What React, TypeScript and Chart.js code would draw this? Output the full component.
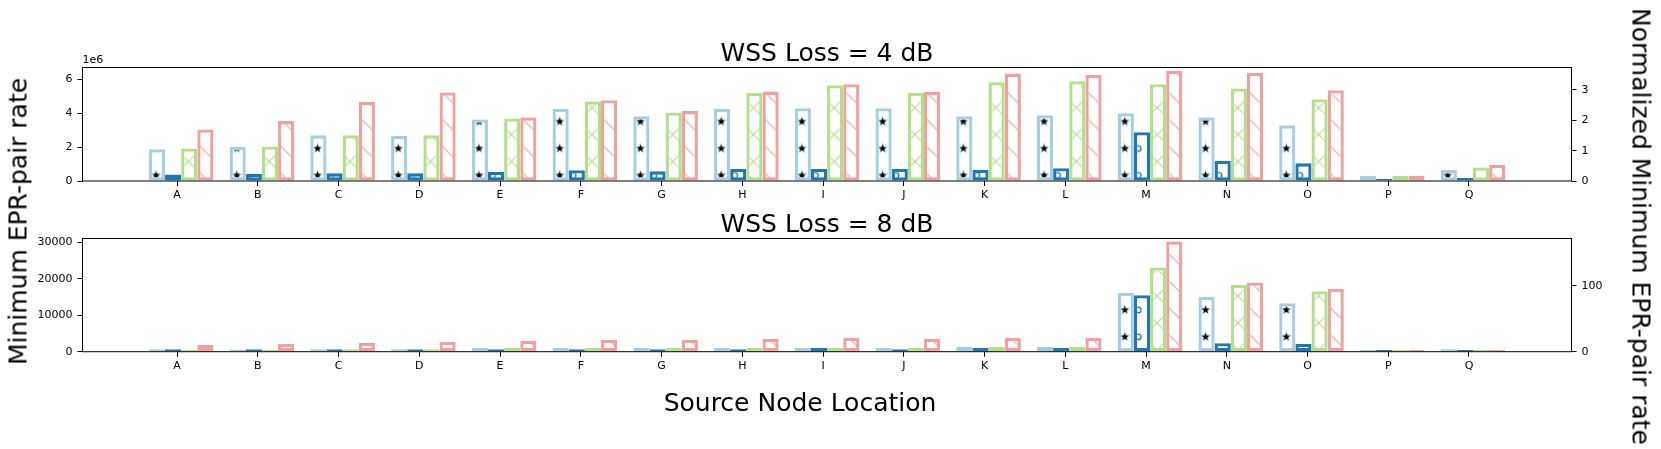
import React, { useEffect, useRef } from 'react';
import { Chart, registerables } from 'chart.js';

Chart.register(...registerables);

// ---------------- data ----------------
const categories = ['A', 'B', 'C', 'D', 'E', 'F', 'G', 'H', 'I', 'J', 'K', 'L', 'M', 'N', 'O', 'P', 'Q'];

// WSS Loss = 4 dB (Minimum EPR-pair rate)
const loss4_lightBlue = [1.87e6, 2.0e6, 2.69e6, 2.65e6, 3.63e6, 4.24e6, 3.82e6, 4.24e6, 4.29e6, 4.29e6, 3.82e6, 3.88e6, 4.0e6, 3.76e6, 3.28e6, 0.29e6, 0.65e6];
const loss4_darkBlue = [0.39e6, 0.43e6, 0.45e6, 0.45e6, 0.53e6, 0.63e6, 0.57e6, 0.71e6, 0.71e6, 0.71e6, 0.66e6, 0.75e6, 2.87e6, 1.19e6, 1.04e6, 0.12e6, 0.18e6];
const loss4_green = [1.92e6, 2.04e6, 2.7e6, 2.69e6, 3.69e6, 4.69e6, 4.04e6, 5.19e6, 5.65e6, 5.19e6, 5.82e6, 5.88e6, 5.71e6, 5.45e6, 4.82e6, 0.29e6, 0.8e6];
const loss4_pink = [3.04e6, 3.53e6, 4.65e6, 5.22e6, 3.75e6, 4.76e6, 4.12e6, 5.27e6, 5.71e6, 5.25e6, 6.33e6, 6.25e6, 6.49e6, 6.37e6, 5.35e6, 0.31e6, 0.94e6];

// WSS Loss = 8 dB (Minimum EPR-pair rate)
const loss8_lightBlue = [700, 600, 700, 700, 1000, 1000, 1000, 1100, 1000, 1100, 1300, 1300, 16100, 15100, 13300, 450, 650];
const loss8_darkBlue = [700, 700, 700, 700, 700, 700, 700, 700, 1000, 700, 1000, 1000, 15500, 2300, 2100, 450, 500];
const loss8_green = [550, 550, 700, 700, 1000, 1000, 1000, 1100, 1100, 1100, 1300, 1300, 23100, 18400, 16600, 450, 500];
const loss8_pink = [1850, 2100, 2400, 2650, 3000, 3200, 3200, 3500, 3850, 3500, 3850, 3850, 30250, 19000, 17200, 450, 500];

// axis ticks / limits
const loss4_leftTicks = [0, 2e6, 4e6, 6e6];
const loss4_rightTicks = [0, 1, 2, 3];
const loss8_leftTicks = [0, 10000, 20000, 30000];
const loss8_rightTicks = [0, 100];
const loss4_leftMax = 6.69e6;
const loss4_rightMax = 3.74;
const loss8_leftMax = 31070;
const loss8_rightMax = 171.8;

const seriesColors = ['#a6cee3', '#1f78b4', '#b2df8a', '#f2a09e'];
const seriesHatch = ['star', 'circle', 'cross', 'back'];

// ---------------- layout ----------------
const W = 1661;
const H = 449;
const PLOT_LEFT = 82.5;
const PLOT_RIGHT = 1571.5;
const X_MIN = -1.172;
const X_MAX = 17.27;
const BAR_SHIFT = 0.05;
const FONT = "'DejaVu Sans', sans-serif";
const HATCH_PERIOD = 26.91; // px in page coordinates
const TILE = 27;

function drawStar(g: CanvasRenderingContext2D, cx: number, cy: number, ro: number, ri: number, fill: string) {
  g.beginPath();
  for (let k = 0; k < 10; k++) {
    const r = k % 2 === 0 ? ro : ri;
    const a = -Math.PI / 2 + (k * Math.PI) / 5;
    const px = cx + r * Math.cos(a);
    const py = cy + r * Math.sin(a);
    if (k === 0) g.moveTo(px, py);
    else g.lineTo(px, py);
  }
  g.closePath();
  g.fillStyle = fill;
  g.fill();
}

// pattern anchored to page coordinates (canvas placed at page y = offY)
function makePattern(kind: string, color: string, offY: number): CanvasPattern | string {
  const s = TILE;
  const k = HATCH_PERIOD / s;
  const c = document.createElement('canvas');
  c.width = s;
  c.height = s;
  const g = c.getContext('2d');
  if (!g) return '#fff';
  g.fillStyle = '#ffffff';
  g.fillRect(0, 0, s, s);
  const half = s / 2;
  const each = (x: number, y: number, fn: (x: number, y: number) => void) => {
    for (const dx of [-s, 0, s]) for (const dy of [-s, 0, s]) fn(x + dx, y + dy);
  };
  const sx = 21.5 / k;
  const sy = 13.9 / k;
  if (kind === 'star') {
    const pts = [
      [sx, sy],
      [sx + half, sy + half],
    ];
    for (const [x, y] of pts) each(x, y, (a, b) => drawStar(g, a, b, 7, 3, '#d3e6f1'));
    for (const [x, y] of pts) each(x, y, (a, b) => drawStar(g, a, b, 4.2, 1.8, '#000000'));
  } else if (kind === 'circle') {
    const pts = [
      [sx + half, sy],
      [sx, sy + half],
    ];
    g.strokeStyle = color;
    g.lineWidth = 1.4;
    for (const [x, y] of pts)
      each(x, y, (a, b) => {
        g.beginPath();
        g.arc(a, b, 2.8, 0, Math.PI * 2);
        g.stroke();
      });
  } else if (kind === 'cross') {
    g.strokeStyle = color;
    g.lineWidth = 1.2;
    g.beginPath();
    for (const d of [-s, 0, s]) {
      g.moveTo(d, 0);
      g.lineTo(d + s, s);
      g.moveTo(d + s, 0);
      g.lineTo(d, s);
    }
    g.stroke();
  } else {
    g.strokeStyle = color;
    g.lineWidth = 1.2;
    g.beginPath();
    for (const d of [-s, 0, s]) {
      g.moveTo(d, 0);
      g.lineTo(d + s, s);
    }
    g.stroke();
  }
  const p = g.createPattern(c, 'repeat');
  if (!p) return '#fff';
  try {
    p.setTransform(new DOMMatrix().translate(0, -offY).scale(k));
  } catch (e) {
    /* ignore */
  }
  return p;
}

const boxPlugin = {
  id: 'axesBox',
  afterDatasetsDraw(chart: any) {
    const { ctx, chartArea } = chart;
    ctx.save();
    ctx.strokeStyle = '#000';
    ctx.lineWidth = 1;
    ctx.strokeRect(chartArea.left, chartArea.top, chartArea.right - chartArea.left, chartArea.bottom - chartArea.top);
    ctx.restore();
  },
};

interface PanelSpec {
  values: number[][];
  leftMax: number;
  rightMax: number;
  leftTicks: number[];
  rightTicks: number[];
  leftFmt: (v: number) => string;
  canvasH: number;
  areaTop: number;
  areaBottom: number;
}

function buildConfig(spec: PanelSpec, patterns: (CanvasPattern | string)[]): any {
  const tickFont = { family: FONT, size: 11 };
  const grid = {
    display: true,
    offset: false,
    drawOnChartArea: false,
    drawTicks: true,
    tickLength: 5,
    color: '#000',
    lineWidth: 1,
  };
  const categoryTicks = (s: any) => {
    s.ticks = categories.map((_, i) => ({ value: i }));
  };
  return {
    type: 'bar',
    data: {
      datasets: spec.values.map((vals, k) => ({
        label: `s${k}`,
        data: vals.map((v, i) => ({ x: i, y: v })),
        backgroundColor: patterns[k],
        borderColor: seriesColors[k],
        borderWidth: 3.3,
        borderSkipped: false,
        categoryPercentage: 0.8,
        barPercentage: 1.0,
        xAxisID: 'x',
        yAxisID: 'y',
      })),
    },
    options: {
      responsive: false,
      animation: false,
      events: [],
      layout: { padding: { top: spec.areaTop, left: 0, right: 0, bottom: 0 } },
      plugins: { legend: { display: false }, tooltip: { enabled: false }, title: { display: false } },
      scales: {
        x: {
          type: 'linear',
          display: false,
          offset: false,
          grid: { offset: false },
          min: X_MIN - BAR_SHIFT,
          max: X_MAX - BAR_SHIFT,
          afterBuildTicks: categoryTicks,
        },
        x2: {
          type: 'linear',
          position: 'bottom',
          offset: false,
          min: X_MIN,
          max: X_MAX,
          afterBuildTicks: categoryTicks,
          afterFit: (s: any) => {
            s.height = spec.canvasH - spec.areaBottom;
          },
          ticks: {
            autoSkip: false,
            maxRotation: 0,
            padding: 3,
            color: '#000',
            font: tickFont,
            callback: (v: number) => categories[v] ?? '',
          },
          grid,
          border: { display: false },
        },
        y: {
          type: 'linear',
          position: 'left',
          min: 0,
          max: spec.leftMax,
          afterBuildTicks: (s: any) => {
            s.ticks = spec.leftTicks.map((v) => ({ value: v }));
          },
          afterFit: (s: any) => {
            s.width = PLOT_LEFT;
          },
          ticks: { padding: 5, color: '#000', font: tickFont, callback: (v: number) => spec.leftFmt(v) },
          grid,
          border: { display: false },
        },
        y2: {
          type: 'linear',
          position: 'right',
          min: 0,
          max: spec.rightMax,
          afterBuildTicks: (s: any) => {
            s.ticks = spec.rightTicks.map((v) => ({ value: v }));
          },
          afterFit: (s: any) => {
            s.width = W - PLOT_RIGHT;
          },
          ticks: { padding: 5, color: '#000', font: tickFont, callback: (v: number) => String(v) },
          grid,
          border: { display: false },
        },
      },
    },
    plugins: [boxPlugin],
  };
}

const TOP_CANVAS_H = 210;
const BOT_CANVAS_TOP = 210;
const BOT_CANVAS_H = H - BOT_CANVAS_TOP;

export default function App() {
  const topRef = useRef<HTMLCanvasElement>(null);
  const botRef = useRef<HTMLCanvasElement>(null);

  useEffect(() => {
    const patternsTop = seriesHatch.map((h, k) => makePattern(h, seriesColors[k], 0));
    const patternsBot = seriesHatch.map((h, k) => makePattern(h, seriesColors[k], BOT_CANVAS_TOP));
    const c1 = new Chart(
      topRef.current as HTMLCanvasElement,
      buildConfig(
        {
          values: [loss4_lightBlue, loss4_darkBlue, loss4_green, loss4_pink],
          leftMax: loss4_leftMax,
          rightMax: loss4_rightMax,
          leftTicks: loss4_leftTicks,
          rightTicks: loss4_rightTicks,
          leftFmt: (v) => String(Math.round(v / 1e6)),
          canvasH: TOP_CANVAS_H,
          areaTop: 67.5,
          areaBottom: 181,
        },
        patternsTop
      )
    );
    const c2 = new Chart(
      botRef.current as HTMLCanvasElement,
      buildConfig(
        {
          values: [loss8_lightBlue, loss8_darkBlue, loss8_green, loss8_pink],
          leftMax: loss8_leftMax,
          rightMax: loss8_rightMax,
          leftTicks: loss8_leftTicks,
          rightTicks: loss8_rightTicks,
          leftFmt: (v) => String(v),
          canvasH: BOT_CANVAS_H,
          areaTop: 238.5 - BOT_CANVAS_TOP,
          areaBottom: 351.7 - BOT_CANVAS_TOP,
        },
        patternsBot
      )
    );
    return () => {
      c1.destroy();
      c2.destroy();
    };
  }, []);

  const text = (extra: React.CSSProperties): React.CSSProperties => ({
    position: 'absolute',
    fontFamily: FONT,
    color: '#000',
    whiteSpace: 'nowrap',
    ...extra,
  });

  return (
    <div style={{ position: 'absolute', left: 0, top: 0, width: W, height: H, background: '#fff', overflow: 'hidden' }}>
      <canvas
        ref={topRef}
        width={W}
        height={TOP_CANVAS_H}
        style={{ position: 'absolute', left: 0, top: 0, width: W, height: TOP_CANVAS_H }}
      />
      <canvas
        ref={botRef}
        width={W}
        height={BOT_CANVAS_H}
        style={{ position: 'absolute', left: 0, top: BOT_CANVAS_TOP, width: W, height: BOT_CANVAS_H }}
      />
      <div style={text({ left: PLOT_LEFT, width: PLOT_RIGHT - PLOT_LEFT, top: 39.5, fontSize: 25, lineHeight: '25px', textAlign: 'center' })}>
        WSS Loss = 4 dB
      </div>
      <div style={text({ left: PLOT_LEFT, width: PLOT_RIGHT - PLOT_LEFT, top: 211.2, fontSize: 25, lineHeight: '25px', textAlign: 'center' })}>
        WSS Loss = 8 dB
      </div>
      <div style={text({ left: PLOT_LEFT, top: 54, fontSize: 11, lineHeight: '11px' })}>1e6</div>
      <div style={text({ left: 800 - 200, width: 400, top: 389.5, fontSize: 25, lineHeight: '25px', textAlign: 'center' })}>
        Source Node Location
      </div>
      <div
        style={text({
          left: 18.4 - 200,
          top: 221 - 12.5,
          width: 400,
          height: 25,
          fontSize: 25,
          lineHeight: '25px',
          textAlign: 'center',
          transform: 'rotate(-90deg)',
        })}
      >
        Minimum EPR-pair rate
      </div>
      <div
        style={text({
          left: 1641.4 - 250,
          top: 226 - 12.5,
          width: 500,
          height: 25,
          fontSize: 25,
          lineHeight: '25px',
          textAlign: 'center',
          transform: 'rotate(90deg)',
        })}
      >
        Normalized Minimum EPR-pair rate
      </div>
    </div>
  );
}
